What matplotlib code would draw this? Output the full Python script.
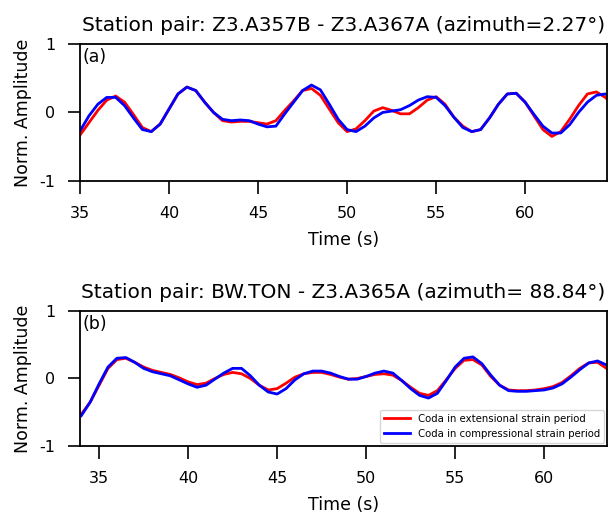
import numpy as np
import matplotlib
matplotlib.use("Agg")
import matplotlib.pyplot as plt

plt.rcParams['axes.unicode_minus'] = False

# panel (a): Z3.A357B - Z3.A367A
t_a = np.arange(35.0, 65.01, 0.5)
ext_a = [-0.33, -0.15, 0.03, 0.18, 0.24, 0.15, -0.03, -0.22, -0.28, -0.17,
         0.05, 0.27, 0.37, 0.32, 0.15, 0.0, -0.12, -0.14, -0.13, -0.13,
         -0.15, -0.17, -0.12, 0.03, 0.17, 0.32, 0.35, 0.25, 0.05, -0.15,
         -0.28, -0.24, -0.12, 0.02, 0.07, 0.03, -0.02, -0.02, 0.07, 0.18,
         0.23, 0.12, -0.07, -0.2, -0.28, -0.25, -0.08, 0.12, 0.27, 0.28,
         0.15, -0.05, -0.25, -0.35, -0.28, -0.1, 0.1, 0.27, 0.3, 0.22, 0.1]
comp_a = [-0.27, -0.05, 0.12, 0.22, 0.22, 0.1, -0.08, -0.25, -0.28, -0.17,
          0.05, 0.27, 0.37, 0.32, 0.15, 0.0, -0.1, -0.12, -0.11, -0.12,
          -0.17, -0.21, -0.2, -0.02, 0.15, 0.32, 0.4, 0.33, 0.12, -0.1,
          -0.25, -0.28, -0.2, -0.08, 0.0, 0.02, 0.04, 0.1, 0.18, 0.23,
          0.22, 0.1, -0.07, -0.22, -0.28, -0.25, -0.08, 0.12, 0.27, 0.28,
          0.15, -0.03, -0.2, -0.3, -0.3, -0.18, 0.0, 0.15, 0.25, 0.27, 0.2]

# panel (b): BW.TON - Z3.A365A
t_b = np.arange(34.0, 63.51, 0.5)
ext_b = [-0.53, -0.35, -0.1, 0.15, 0.28, 0.3, 0.24, 0.17, 0.12, 0.09,
         0.06, 0.01, -0.05, -0.09, -0.07, 0.0, 0.06, 0.09, 0.07, 0.0,
         -0.1, -0.17, -0.15, -0.07, 0.02, 0.07, 0.09, 0.09, 0.06, 0.02,
         -0.01, 0.0, 0.03, 0.06, 0.07, 0.05, -0.03, -0.13, -0.22, -0.25,
         -0.18, -0.02, 0.15, 0.27, 0.28, 0.2, 0.03, -0.1, -0.17, -0.18,
         -0.18, -0.17, -0.15, -0.12, -0.06, 0.04, 0.15, 0.23, 0.24, 0.15]
comp_b = [-0.55, -0.35, -0.08, 0.17, 0.3, 0.31, 0.24, 0.15, 0.1, 0.07,
          0.04, -0.02, -0.08, -0.13, -0.1, -0.01, 0.08, 0.15, 0.15, 0.04,
          -0.1, -0.2, -0.23, -0.15, -0.02, 0.07, 0.11, 0.11, 0.08, 0.03,
          -0.01, -0.01, 0.03, 0.08, 0.11, 0.08, -0.03, -0.15, -0.25, -0.29,
          -0.22, -0.03, 0.17, 0.3, 0.32, 0.22, 0.05, -0.1, -0.18, -0.19,
          -0.19, -0.18, -0.17, -0.14, -0.08, 0.02, 0.13, 0.23, 0.26, 0.2]

titles = ["Station pair: Z3.A357B - Z3.A367A (azimuth=2.27\u00b0)",
          "Station pair: BW.TON - Z3.A365A (azimuth= 88.84\u00b0)"]

fig = plt.figure(figsize=(6.11, 5.17), dpi=100)
ax1 = fig.add_axes([0.131, 0.650, 0.8625, 0.265])
ax2 = fig.add_axes([0.131, 0.1373, 0.8625, 0.2612])

panels = [
    (ax1, t_a, ext_a, comp_a, "(a)", (35, 64.6)),
    (ax2, t_b, ext_b, comp_b, "(b)", (33.93, 63.53)),
]

for ax, t, ext, comp, lab, xl in panels:
    ax.plot(t, ext, color='red', lw=2, label="Coda in extensional strain period")
    ax.plot(t, comp, color='blue', lw=2, label="Coda in compressional strain period")
    ax.set_xlim(*xl)
    ax.set_ylim(-1, 1)
    ax.set_yticks([-1, 0, 1])
    ax.set_xticks([35, 40, 45, 50, 55, 60])
    ax.tick_params(labelsize=11.5, length=9, width=1.2, pad=9)
    ax.set_ylabel("Norm. Amplitude", fontsize=12.5, labelpad=5)
    ax.set_xlabel("Time (s)", fontsize=12.5, labelpad=7)
    ax.text(0.005, 0.97, lab, transform=ax.transAxes, fontsize=12.5, va='top', ha='left')
    for s in ax.spines.values():
        s.set_linewidth(1.3)

ax1.set_title(titles[0], fontsize=14.5, pad=9)
ax2.set_title(titles[1], fontsize=14.5, pad=9)

ax2.legend(loc='lower right', fontsize=7.3, handlelength=2.5, borderaxespad=0.3)

fig.savefig("out.png", dpi=100)
